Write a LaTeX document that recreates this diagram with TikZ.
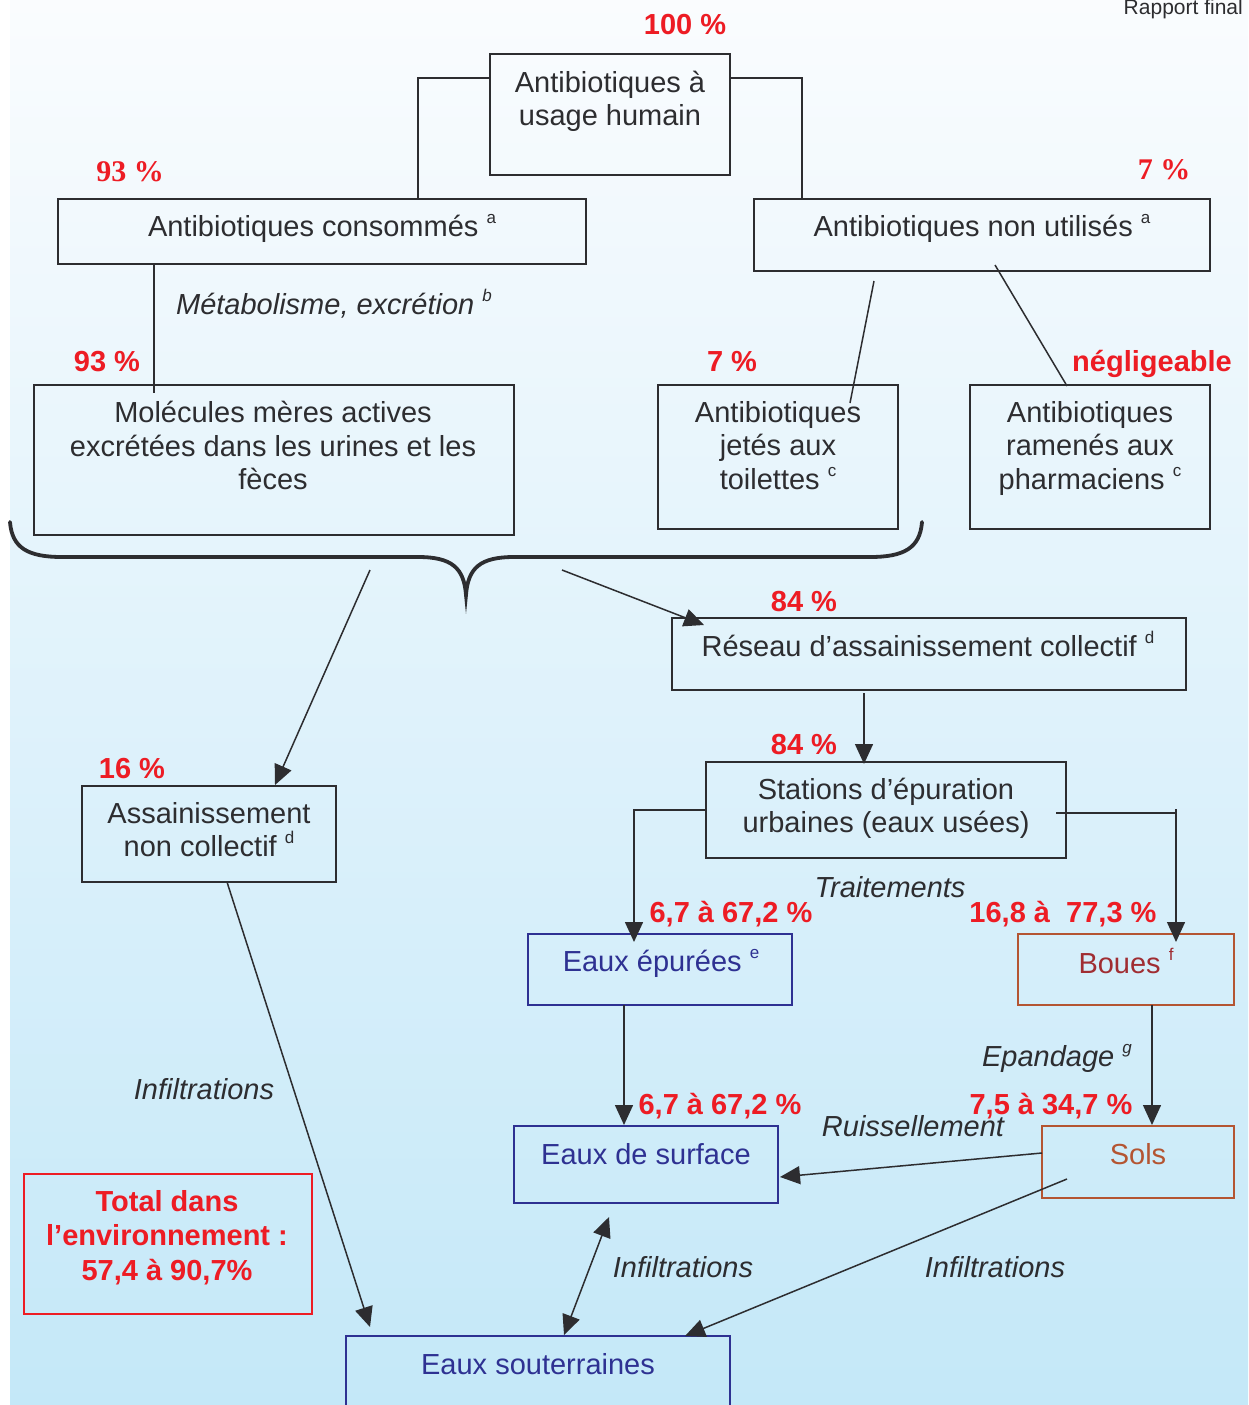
\documentclass[tikz,border=0pt]{standalone}
\usepackage{fontspec}
\setmainfont{Liberation Sans}
\newfontfamily\serifb{Liberation Serif}
\usetikzlibrary{arrows.meta,calc}
\definecolor{ink}{RGB}{45,45,48}
\definecolor{redx}{RGB}{237,28,36}
\definecolor{navy}{RGB}{46,49,146}
\definecolor{maroon}{RGB}{160,45,50}
\definecolor{rust}{RGB}{180,85,50}
\definecolor{bgtop}{RGB}{250,252,254}
\definecolor{bgbot}{RGB}{196,232,248}
\newcommand\upx[1]{\raisebox{0.45em}{\fontsize{17}{17}\selectfont #1}}
\newcommand\lstrut{\rule[-0.25em]{0pt}{1em}}
\begin{document}
\begin{tikzpicture}[x=1pt,y=-1pt,
  box/.style={draw=ink, line width=1.8pt, rectangle, inner sep=0pt, outer sep=0pt, anchor=north west},
  txt/.style={font=\fontsize{29}{33.5}\selectfont, text=ink, align=center, inner sep=0pt,
    execute at begin node=\lstrut, execute at end node=\lstrut},
  pct/.style={txt, font=\fontsize{29}{34}\selectfont\bfseries, text=redx},
  spct/.style={txt, font=\fontsize{30}{34}\selectfont\serifb\bfseries, text=redx},
  itl/.style={txt, font=\fontsize{29}{33}\selectfont\itshape},
  conn/.style={draw=ink, line width=1.5pt},
  arr/.style={conn, -{Triangle[length=20pt,width=18pt]}},
  darr/.style={conn, {Triangle[length=20pt,width=18pt]}-{Triangle[length=20pt,width=18pt]}}]

\useasboundingbox (0,0) rectangle (1248,1405);
\clip (0,0) rectangle (1248,1405);
\fill[white] (0,0) rectangle (1248,1405);
\shade[top color=bgtop, bottom color=bgbot] (10,0) rectangle (1248,1405);

\node[font=\fontsize{21}{21}\selectfont, text=ink, anchor=base east, inner sep=0pt] (rf) at (1243,15) {Rapport final};

% boxes
\node[box, minimum width=240pt, minimum height=121pt] (A) at (490,54) {};
\node[box, minimum width=528pt, minimum height=65pt] (B) at (58,199) {};
\node[box, minimum width=456pt, minimum height=72pt] (C) at (754,199) {};
\node[box, minimum width=480pt, minimum height=150pt] (D) at (34,385) {};
\node[box, minimum width=240pt, minimum height=144pt] (E) at (658,385) {};
\node[box, minimum width=240pt, minimum height=144pt] (F) at (970,385) {};
\node[box, minimum width=514pt, minimum height=72pt] (G) at (672,618) {};
\node[box, minimum width=360pt, minimum height=96pt] (H) at (706,762) {};
\node[box, minimum width=254pt, minimum height=96pt] (I) at (82,786) {};
\node[box, draw=navy, minimum width=264pt, minimum height=71pt] (J) at (528,934) {};
\node[box, draw=rust, minimum width=216pt, minimum height=71pt] (K) at (1018,934) {};
\node[box, draw=navy, minimum width=264pt, minimum height=77pt] (L) at (514,1126) {};
\node[box, draw=rust, minimum width=192pt, minimum height=72pt] (M) at (1042,1126) {};
\node[box, draw=redx, line width=1.5pt, minimum width=288pt, minimum height=140pt] (N) at (24,1174) {};
\node[box, draw=navy, minimum width=384pt, minimum height=100pt] (O) at (346,1336) {};

% box texts
\node[txt] (tA) at (610,102) {Antibiotiques à\\usage humain};
\node[txt] (tB) at (322,229) {Antibiotiques consommés \upx{a}};
\node[txt] (tC) at (982,229) {Antibiotiques non utilisés \upx{a}};
\node[txt] (tD) at (273,449) {Molécules mères actives\\excrétées dans les urines et les\\fèces};
\node[txt] (tE) at (778,449) {Antibiotiques\\jetés aux\\toilettes \upx{c}};
\node[txt] (tF) at (1090,449) {Antibiotiques\\ramenés aux\\pharmaciens \upx{c}};
\node[txt] (tG) at (928,647) {Réseau d’assainissement collectif \upx{d}};
\node[txt] (tH) at (886,809) {Stations d’épuration\\urbaines (eaux usées)};
\node[txt] (tI) at (209,833) {Assainissement\\non collectif \upx{d}};
\node[txt, text=navy] (tJ) at (661,964) {Eaux épurées \upx{e}};
\node[txt, text=maroon] (tK) at (1126,964) {Boues \upx{f}};
\node[txt, text=navy] (tL) at (646,1157) {Eaux de surface};
\node[txt, text=rust] (tM) at (1138,1157) {Sols};
\node[pct, font=\fontsize{29}{34.5}\selectfont\bfseries] (tN) at (167,1239) {Total dans\\l’environnement :\\57,4 à 90,7\%};
\node[txt, text=navy] (tO) at (538,1367) {Eaux souterraines};

% percentages
\node[pct] (p100) at (685,27) {100 \%};
\node[spct] (p93a) at (130,174) {93 \%};
\node[spct] (p7a) at (1164,172) {7 \%};
\node[pct] (p93b) at (107,364) {93 \%};
\node[pct] (p7b) at (732,364) {7 \%};
\node[pct] (pneg) at (1152,364) {négligeable};
\node[pct] (p84a) at (804,604) {84 \%};
\node[pct] (p84b) at (804,747) {84 \%};
\node[pct] (p16) at (132,771) {16 \%};
\node[pct] (p67a) at (731,915) {6,7 à 67,2 \%};
\node[pct] (p168) at (1063,915) {16,8 à\ \ 77,3 \%};
\node[pct] (p67b) at (720,1107) {6,7 à 67,2 \%};
\node[pct] (p75) at (1051,1107) {7,5 à 34,7 \%};

% italic labels
\node[itl] (lmet) at (334,305) {Métabolisme, excrétion \upx{b}};
\node[itl] (ltrt) at (890,890) {Traitements};
\node[itl] (lepa) at (1057,1059) {Epandage \upx{g}};
\node[itl] (lrui) at (913,1129) {Ruissellement};
\node[itl] (linf1) at (204,1092) {Infiltrations};
\node[itl] (linf2) at (683,1270) {Infiltrations};
\node[itl] (linf3) at (995,1270) {Infiltrations};

% brace
\draw[ink, line width=3.8pt, line cap=round]
  (10,522) .. controls (12,548) and (28,557) .. (62,557) -- (418,557)
  .. controls (452,557) and (464,568) .. (466,595)
  .. controls (468,568) and (480,557) .. (514,557) -- (870,557)
  .. controls (904,557) and (920,548) .. (922,522);
\coordinate (br1) at (370,570);
\coordinate (br2) at (562,570);

% connectors
\draw[conn] ($(A.north west)+(0,24)$) -| ($(B.north west)+(360,0)$);
\draw[conn] ($(A.north east)+(0,24)$) -| ($(C.north west)+(48,0)$);
\draw[conn] ($(B.south west)+(96,0)$) -- ($(D.north west)+(120,8)$);
\draw[conn] ($(C.south west)+(120,10)$) -- ($(E.north west)+(192,18)$);
\draw[conn] ($(C.south west)+(241,-6)$) -- ($(F.north west)+(97,1)$);
\draw[arr] (br1) -- ($(I.north west)+(193,-1)$);
\draw[arr] (br2) -- ($(G.north west)+(32,7)$);
\draw[arr] ($(G.south west)+(192,3)$) -- ($(H.north west)+(158,2)$);
\draw[arr] ($(H.north west)+(0,48)$) -| ($(J.north west)+(106,8)$);
\coordinate (hr1) at ($(H.north east)+(-10,51)$);
\coordinate (hr2) at ($(K.north west)+(158,8)$);
\draw[conn] (hr1) -- (hr1 -| hr2);
\draw[arr] ($(hr1 -| hr2)+(0,-4)$) -- (hr2);
\draw[arr] ($(J.south west)+(96,0)$) -- ($(L.north west)+(110,-1)$);
\draw[arr] ($(K.south west)+(134,0)$) -- ($(M.north west)+(110,-1)$);
\draw[arr] ($(M.north west)+(0,27)$) -- ($(L.north east)+(2,51)$);
\draw[arr] ($(M.south west)+(25,-19)$) -- ($(O.north west)+(339,0)$);
\draw[darr] ($(L.south west)+(95,14)$) -- ($(O.north west)+(218,-1)$);
\draw[arr] ($(I.south west)+(145,0)$) -- ($(O.north west)+(24,-9)$);
\end{tikzpicture}
\end{document}
